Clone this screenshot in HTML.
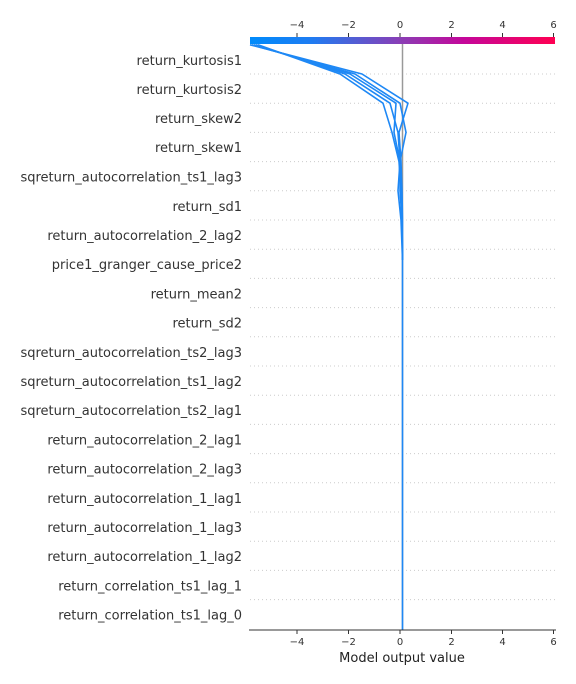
<!DOCTYPE html>
<html><head><style>body{margin:0;background:#fff}svg{display:block}</style></head><body>
<svg width="576" height="684" xmlns="http://www.w3.org/2000/svg" font-family="DejaVu Sans, Liberation Sans, sans-serif">
<defs><linearGradient id="g" x1="0" x2="1"><stop offset="0" stop-color="#008bfb"/><stop offset="0.2" stop-color="#1e7cf2"/><stop offset="0.5" stop-color="#8c3cb4"/><stop offset="0.7" stop-color="#c4079a"/><stop offset="1" stop-color="#ff0052"/></linearGradient></defs>
<rect x="250" y="37" width="305" height="7" fill="url(#g)"/>
<g stroke="#333" stroke-width="1"><line x1="297" y1="33" x2="297" y2="37"/><line x1="348.5" y1="33" x2="348.5" y2="37"/><line x1="400" y1="33" x2="400" y2="37"/><line x1="451.5" y1="33" x2="451.5" y2="37"/><line x1="502.5" y1="33" x2="502.5" y2="37"/><line x1="553.5" y1="33" x2="553.5" y2="37"/></g>
<g font-size="10" fill="#333" text-anchor="middle"><text x="297" y="28">−4</text><text x="348.5" y="28">−2</text><text x="400" y="28">0</text><text x="451.5" y="28">2</text><text x="502.5" y="28">4</text><text x="553.5" y="28">6</text></g>
<g stroke="#ccc" stroke-dasharray="1,3"><line x1="250" x2="555" y1="74" y2="74"/><line x1="250" x2="555" y1="103.2" y2="103.2"/><line x1="250" x2="555" y1="132.4" y2="132.4"/><line x1="250" x2="555" y1="161.6" y2="161.6"/><line x1="250" x2="555" y1="190.8" y2="190.8"/><line x1="250" x2="555" y1="220" y2="220"/><line x1="250" x2="555" y1="249.2" y2="249.2"/><line x1="250" x2="555" y1="278.4" y2="278.4"/><line x1="250" x2="555" y1="307.6" y2="307.6"/><line x1="250" x2="555" y1="336.8" y2="336.8"/><line x1="250" x2="555" y1="366" y2="366"/><line x1="250" x2="555" y1="395.2" y2="395.2"/><line x1="250" x2="555" y1="424.4" y2="424.4"/><line x1="250" x2="555" y1="453.6" y2="453.6"/><line x1="250" x2="555" y1="482.8" y2="482.8"/><line x1="250" x2="555" y1="512" y2="512"/><line x1="250" x2="555" y1="541.2" y2="541.2"/><line x1="250" x2="555" y1="570.4" y2="570.4"/><line x1="250" x2="555" y1="599.6" y2="599.6"/></g>
<line x1="402.5" y1="44" x2="402.5" y2="630" stroke="#999" stroke-width="1.5"/>
<g fill="none" stroke="#1e88f5" stroke-width="1.6" stroke-linejoin="round">
<polyline points="250,44.8 362,74 408,103.2 399,132.4 401,161.6 402,190.8 402.5,220 402.5,630"/>
<polyline points="252,44.8 355,74 400,103.2 406,132.4 400,161.6 401,190.8 402,220 402.5,260"/>
<polyline points="254,44.8 350,74 396,103.2 394,132.4 400,161.6 398,190.8 401,220 402.5,260"/>
<polyline points="256,44.8 345,74 390,103.2 398,132.4 400,161.6 400,190.8 402,220 402.5,260"/>
<polyline points="258,44.8 340,74 383,103.2 392,132.4 399,161.6 401,190.8 402,220 402.5,260"/>
</g>
<line x1="249" y1="630" x2="556" y2="630" stroke="#333" stroke-width="1"/>
<g stroke="#333" stroke-width="1"><line x1="297" y1="630" x2="297" y2="634"/><line x1="348.5" y1="630" x2="348.5" y2="634"/><line x1="400" y1="630" x2="400" y2="634"/><line x1="451.5" y1="630" x2="451.5" y2="634"/><line x1="502.5" y1="630" x2="502.5" y2="634"/><line x1="553.5" y1="630" x2="553.5" y2="634"/></g>
<g font-size="10" fill="#333" text-anchor="middle"><text x="297" y="645">−4</text><text x="348.5" y="645">−2</text><text x="400" y="645">0</text><text x="451.5" y="645">2</text><text x="502.5" y="645">4</text><text x="553.5" y="645">6</text></g>
<text x="402" y="662" font-size="13" fill="#222" text-anchor="middle">Model output value</text>
<g font-size="13" fill="#333" text-anchor="end">
<text x="242" y="65">return_kurtosis1</text>
<text x="242" y="94">return_kurtosis2</text>
<text x="242" y="123">return_skew2</text>
<text x="242" y="152">return_skew1</text>
<text x="242" y="181.5">sqreturn_autocorrelation_ts1_lag3</text>
<text x="242" y="211">return_sd1</text>
<text x="242" y="240">return_autocorrelation_2_lag2</text>
<text x="242" y="269">price1_granger_cause_price2</text>
<text x="242" y="298.5">return_mean2</text>
<text x="242" y="327.5">return_sd2</text>
<text x="242" y="357">sqreturn_autocorrelation_ts2_lag3</text>
<text x="242" y="386">sqreturn_autocorrelation_ts1_lag2</text>
<text x="242" y="415">sqreturn_autocorrelation_ts2_lag1</text>
<text x="242" y="444.5">return_autocorrelation_2_lag1</text>
<text x="242" y="473.5">return_autocorrelation_2_lag3</text>
<text x="242" y="503">return_autocorrelation_1_lag1</text>
<text x="242" y="532">return_autocorrelation_1_lag3</text>
<text x="242" y="561">return_autocorrelation_1_lag2</text>
<text x="242" y="590.5">return_correlation_ts1_lag_1</text>
<text x="242" y="619.5">return_correlation_ts1_lag_0</text>
</g>
</svg>
</body></html>
